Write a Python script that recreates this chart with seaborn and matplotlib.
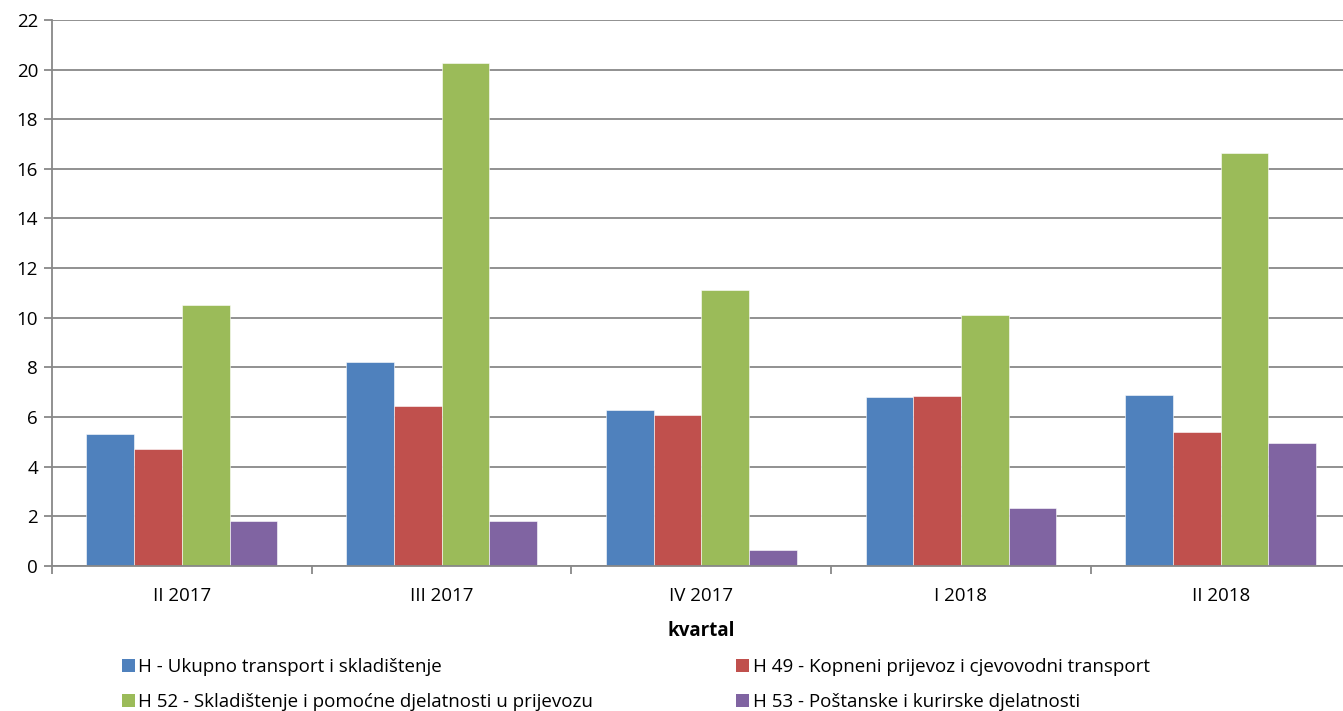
import matplotlib
matplotlib.use("Agg")
import matplotlib.pyplot as plt
import seaborn as sns
import pandas as pd
import numpy as np
from matplotlib.patches import Patch

categories = ["II 2017", "III 2017", "IV 2017", "I 2018", "II 2018"]
series_names = [
    "H - Ukupno transport i skladištenje",
    "H 49 - Kopneni prijevoz i cjevovodni transport",
    "H 52 - Skladištenje i pomoćne djelatnosti u prijevozu",
    "H 53 - Poštanske i kurirske djelatnosti",
]
h_total = [5.3, 8.2, 6.3, 6.8, 6.9]
h49 = [4.7, 6.45, 6.1, 6.85, 5.4]
h52 = [10.5, 20.25, 11.1, 10.1, 16.65]
h53 = [1.8, 1.8, 0.65, 2.35, 4.95]
colors = ["#4F81BD", "#C0504D", "#9BBB59", "#8064A2"]
y_ticks = list(range(0, 23, 2))

rows = []
for name, vals in zip(series_names, [h_total, h49, h52, h53]):
    for c, v in zip(categories, vals):
        rows.append({"kvartal": c, "serija": name, "value": v})
df = pd.DataFrame(rows)

sns.set_theme(style="white")
plt.rcParams["font.family"] = ["Open Sans", "DejaVu Sans"]
plt.rcParams["text.color"] = "black"
plt.rcParams["axes.labelcolor"] = "black"
plt.rcParams["xtick.color"] = "black"
plt.rcParams["ytick.color"] = "black"
FS = 13.5

fig = plt.figure(figsize=(13.43, 7.11), dpi=100)
ax = fig.add_axes([0.0387, 0.204, 0.9669, 0.768])

sns.barplot(data=df, x="kvartal", y="value", hue="serija", order=categories,
            hue_order=series_names, palette=colors, width=0.735, gap=0,
            saturation=1, ax=ax, legend=False, edgecolor="white", linewidth=0.4)

ax.set_ylim(0, 22)
ax.set_xlim(-0.5, len(categories) - 0.5)
ax.set_yticks(y_ticks)
ax.yaxis.grid(True, color="#888888", linewidth=1.3)
ax.set_axisbelow(True)
for s in ["top", "right"]:
    ax.spines[s].set_visible(False)
for s in ["left", "bottom"]:
    ax.spines[s].set_color("#888888")
    ax.spines[s].set_linewidth(1.3)

ax.tick_params(axis="y", which="major", length=6, width=1.3, color="#888888",
               labelcolor="black", labelsize=FS, pad=4, left=True)
ax.tick_params(axis="x", which="major", length=0, labelsize=FS, pad=15,
               labelcolor="black")
ax.set_xticks(np.arange(-0.5, len(categories), 1.0), minor=True)
ax.tick_params(axis="x", which="minor", length=6, width=1.3, color="#888888", bottom=True)
ax.set_xlabel("kvartal", fontsize=FS, fontweight="bold", labelpad=12, color="black")
ax.set_ylabel("")

handles = [Patch(facecolor=c, edgecolor="none") for c in colors]
order = [0, 2, 1, 3]
fig.legend([handles[i] for i in order], [series_names[i] for i in order],
           loc="upper left", bbox_to_anchor=(0.0905, 0.074), ncol=2, frameon=False,
           fontsize=FS, handlelength=0.7, handleheight=0.7, handletextpad=0.2,
           columnspacing=7.6, labelspacing=0.87, borderaxespad=0, borderpad=0,
           labelcolor="black")

fig.savefig("out.png", dpi=100)
